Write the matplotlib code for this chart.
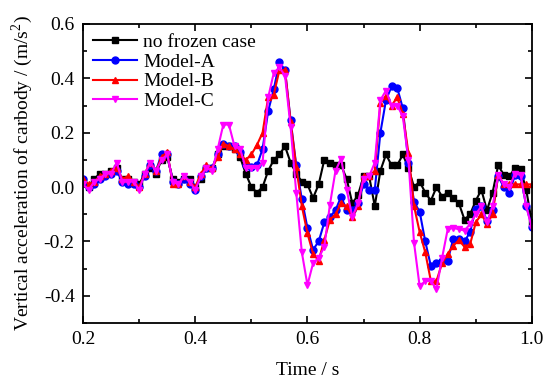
import numpy as np
import matplotlib
matplotlib.use("Agg")
import matplotlib.pyplot as plt
from matplotlib.ticker import MultipleLocator, FormatStrFormatter

plt.rcParams['font.family'] = ['Liberation Serif', 'DejaVu Serif']
plt.rcParams['axes.unicode_minus'] = False
plt.rcParams['mathtext.fontset'] = 'custom'
plt.rcParams['mathtext.rm'] = 'Liberation Serif'

time = np.round(np.arange(0.20, 1.0001, 0.01), 2)

no_frozen = [0.02, 0.00, 0.03, 0.05, 0.05, 0.06, 0.07, 0.03, 0.03, 0.02,
             0.01, 0.05, 0.07, 0.05, 0.10, 0.11, 0.03, 0.02, 0.03, 0.03,
             0.00, 0.03, 0.07, 0.07, 0.12, 0.15, 0.15, 0.14, 0.11, 0.05,
             0.00, -0.02, 0.00, 0.06, 0.10, 0.12, 0.15, 0.09, 0.05, 0.02,
             0.01, -0.04, 0.01, 0.10, 0.09, 0.08, 0.08, 0.03, -0.06, -0.03,
             0.04, 0.04, -0.07, 0.06, 0.12, 0.08, 0.08, 0.12, 0.07, 0.00,
             0.02, -0.02, -0.05, 0.00, -0.035, -0.02, -0.04, -0.06, -0.12, -0.10,
             -0.05, -0.01, -0.085, -0.02, 0.08, 0.045, 0.04, 0.07, 0.065, -0.01,
             -0.13]

model_a = [0.03, 0.00, 0.01, 0.03, 0.04, 0.05, 0.06, 0.02, 0.01, 0.01,
           0.00, 0.04, 0.08, 0.06, 0.12, 0.12, 0.02, 0.01, 0.03, 0.01,
           -0.01, 0.04, 0.07, 0.07, 0.12, 0.16, 0.15, 0.15, 0.13, 0.08,
           0.075, 0.08, 0.14, 0.28, 0.36, 0.46, 0.43, 0.245, 0.08, -0.045,
           -0.15, -0.23, -0.20, -0.13, -0.11, -0.085, -0.035, -0.085, -0.085, -0.06,
           0.01, -0.01, -0.01, 0.20, 0.32, 0.37, 0.365, 0.29, 0.09, -0.055,
           -0.09, -0.20, -0.29, -0.28, -0.27, -0.27, -0.19, -0.19, -0.20, -0.165,
           -0.08, -0.07, -0.125, -0.085, 0.04, 0.00, -0.02, 0.045, 0.04, -0.07,
           -0.145]

model_b = [0.03, 0.01, 0.02, 0.04, 0.05, 0.06, 0.07, 0.03, 0.04, 0.02,
           0.00, 0.05, 0.09, 0.06, 0.11, 0.13, 0.01, 0.01, 0.04, 0.02,
           0.00, 0.05, 0.08, 0.07, 0.11, 0.16, 0.15, 0.14, 0.12, 0.10,
           0.12, 0.155, 0.20, 0.33, 0.34, 0.43, 0.43, 0.24, 0.075, -0.07,
           -0.17, -0.245, -0.27, -0.195, -0.12, -0.10, -0.06, -0.07, -0.11, -0.07,
           0.04, 0.04, 0.06, 0.31, 0.335, 0.30, 0.33, 0.27, 0.125, -0.07,
           -0.165, -0.24, -0.345, -0.345, -0.28, -0.245, -0.215, -0.195, -0.22, -0.21,
           -0.13, -0.10, -0.135, -0.10, 0.045, 0.01, 0.01, 0.01, 0.01, 0.01,
           0.01]

model_c = [0.01, -0.01, 0.02, 0.03, 0.05, 0.05, 0.09, 0.02, 0.02, 0.02,
           -0.01, 0.05, 0.09, 0.06, 0.10, 0.12, 0.02, 0.01, 0.04, 0.02,
           -0.01, 0.04, 0.07, 0.06, 0.14, 0.23, 0.23, 0.15, 0.14, 0.07,
           0.07, 0.07, 0.09, 0.33, 0.42, 0.44, 0.41, 0.22, -0.02, -0.24,
           -0.36, -0.28, -0.26, -0.22, -0.065, 0.06, 0.105, -0.01, -0.11, -0.06,
           0.03, 0.04, 0.09, 0.32, 0.355, 0.30, 0.30, 0.26, 0.10, -0.205,
           -0.365, -0.345, -0.345, -0.375, -0.26, -0.155, -0.15, -0.155, -0.16, -0.135,
           -0.10, -0.07, -0.13, -0.07, 0.045, 0.01, 0.00, 0.05, 0.045, -0.07,
           -0.15]

fig = plt.figure(figsize=(5.5, 3.86), dpi=100)
ax = fig.add_axes([0.151, 0.163, 0.816, 0.775])

ax.plot(time, no_frozen, color='black', marker='s', markersize=4.5, lw=1.5, label='no frozen case')
ax.plot(time, model_a, color='blue', marker='o', markersize=5, lw=1.5, label='Model-A')
ax.plot(time, model_b, color='red', marker='^', markersize=5, lw=1.5, label='Model-B')
ax.plot(time, model_c, color='magenta', marker='v', markersize=5, lw=1.5, label='Model-C')

ax.set_xlim(0.2, 1.0)
ax.set_ylim(-0.5, 0.6)
ax.xaxis.set_major_locator(MultipleLocator(0.2))
ax.xaxis.set_minor_locator(MultipleLocator(0.1))
ax.yaxis.set_major_locator(MultipleLocator(0.2))
ax.yaxis.set_minor_locator(MultipleLocator(0.1))
ax.xaxis.set_major_formatter(FormatStrFormatter('%.1f'))
ax.yaxis.set_major_formatter(FormatStrFormatter('%.1f'))
ax.tick_params(which='both', direction='in', top=True, right=True, labelsize=14, width=1.2)
ax.tick_params(which='major', length=5, pad=6)
ax.tick_params(which='minor', length=3)
for s in ax.spines.values():
    s.set_linewidth(1.3)

ax.set_xlabel('Time / s', fontsize=14, labelpad=10)
ax.set_ylabel('Vertical acceleration of carbody / (m/s$^2$)', fontsize=14, labelpad=6)

ax.legend(loc='upper left', frameon=False, fontsize=14, handlelength=2.3,
          labelspacing=0.1, borderaxespad=0.2, handletextpad=0.3, borderpad=0.3)

fig.savefig('out.png', dpi=100)
